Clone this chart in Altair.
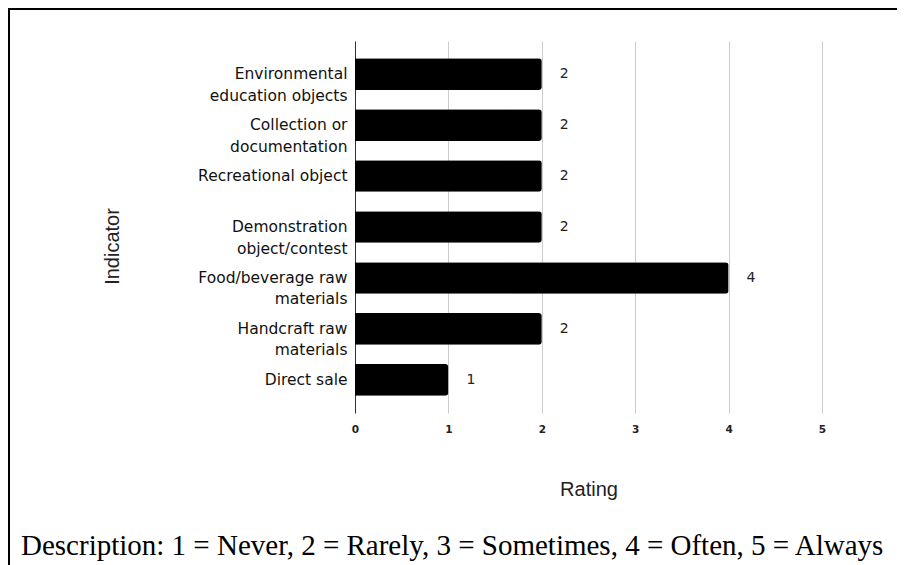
import json
import altair as alt
import pandas as pd

# ---- data ----
categories = [
    "Environmental education objects",
    "Collection or documentation",
    "Recreational object",
    "Demonstration object/contest",
    "Food/beverage raw materials",
    "Handcraft raw materials",
    "Direct sale",
]
ratings = [2, 2, 2, 2, 4, 2, 1]
label_lines = [
    ["Environmental", "education objects"],
    ["Collection or", "documentation"],
    ["Recreational object"],
    ["Demonstration", "object/contest"],
    ["Food/beverage raw", "materials"],
    ["Handcraft raw", "materials"],
    ["Direct sale"],
]
x_ticks = [0, 1, 2, 3, 4, 5]
x_title = "Rating"
y_title = "Indicator"
description = "Description: 1 = Never, 2 = Rarely, 3 = Sometimes, 4 = Often, 5 = Always"

df = pd.DataFrame({"Indicator": categories, "Rating": ratings})

label_expr = ""
for c, lines in zip(categories, label_lines):
    label_expr += f"datum.label == {json.dumps(c)} ? {json.dumps(lines)} : "
label_expr += "datum.label"

W, H = 467, 372
PAD_L, PAD_T, PAD_R, PAD_B = 347, 33, 75, 152

y_enc = alt.Y(
    "Indicator:N",
    sort=categories,
    scale=alt.Scale(paddingInner=0.38, paddingOuter=0.34),
    axis=alt.Axis(
        title=y_title,
        labelExpr=label_expr,
        labelFont="DejaVu Sans",
        labelFontSize=15.5,
        labelColor="#111",
        labelLineHeight=21.5,
        labelPadding=8,
        labelLimit=300,
        ticks=False,
        domain=True,
        domainColor="#333",
        domainWidth=1,
        grid=False,
        titleFont="Liberation Sans",
        titleFontSize=20,
        titleFontWeight="normal",
        titleColor="#222",
        titleAngle=270,
        titleAlign="center",
        titleBaseline="alphabetic",
        titleX=-237,
        titleY=205,
    ),
)

x_enc = alt.X(
    "Rating:Q",
    scale=alt.Scale(domain=[0, 5], nice=False),
    axis=alt.Axis(
        title=x_title,
        values=x_ticks,
        format="d",
        grid=True,
        gridColor="#cccccc",
        gridWidth=1,
        domain=False,
        ticks=False,
        labelFlush=False,
        labelFont="DejaVu Sans",
        labelFontSize=10.5,
        labelFontWeight="bold",
        labelColor="#222",
        labelPadding=11,
        titleFont="Liberation Sans",
        titleFontSize=20,
        titleFontWeight="normal",
        titleColor="#222",
        titleBaseline="alphabetic",
        titleY=82,
    ),
)

base = alt.Chart(df)

bars = base.mark_bar(color="#000000", cornerRadiusEnd=3).encode(x=x_enc, y=y_enc)

values = base.mark_text(
    align="left", baseline="middle", dx=18, font="DejaVu Sans", fontSize=14, color="#222"
).encode(x="Rating:Q", y=alt.Y("Indicator:N", sort=categories), text="Rating:Q")

one = alt.Data(values=[{}])

left_border = alt.Chart(one).mark_rule(color="#000", strokeWidth=2).encode(
    x=alt.value(-PAD_L + 1), y=alt.value(-PAD_T + 1), y2=alt.value(H + PAD_B + 5)
)
top_border = alt.Chart(one).mark_rule(color="#000", strokeWidth=2).encode(
    x=alt.value(-PAD_L), x2=alt.value(W + PAD_R + 5), y=alt.value(-PAD_T + 1)
)

desc = alt.Chart(one).mark_text(
    align="left", baseline="alphabetic", font="Liberation Serif", fontSize=29, color="#000"
).encode(x=alt.value(-334), y=alt.value(514), text=alt.value(description))

chart = (
    alt.layer(bars, values, left_border, top_border, desc)
    .properties(
        width=W,
        height=H,
        autosize=alt.AutoSizeParams(type="none"),
        padding={"left": PAD_L, "top": PAD_T, "right": PAD_R, "bottom": PAD_B},
        background="white",
    )
    .configure_view(stroke=None)
)

chart.save("out.html", embed_options={"renderer": "svg", "actions": False})
